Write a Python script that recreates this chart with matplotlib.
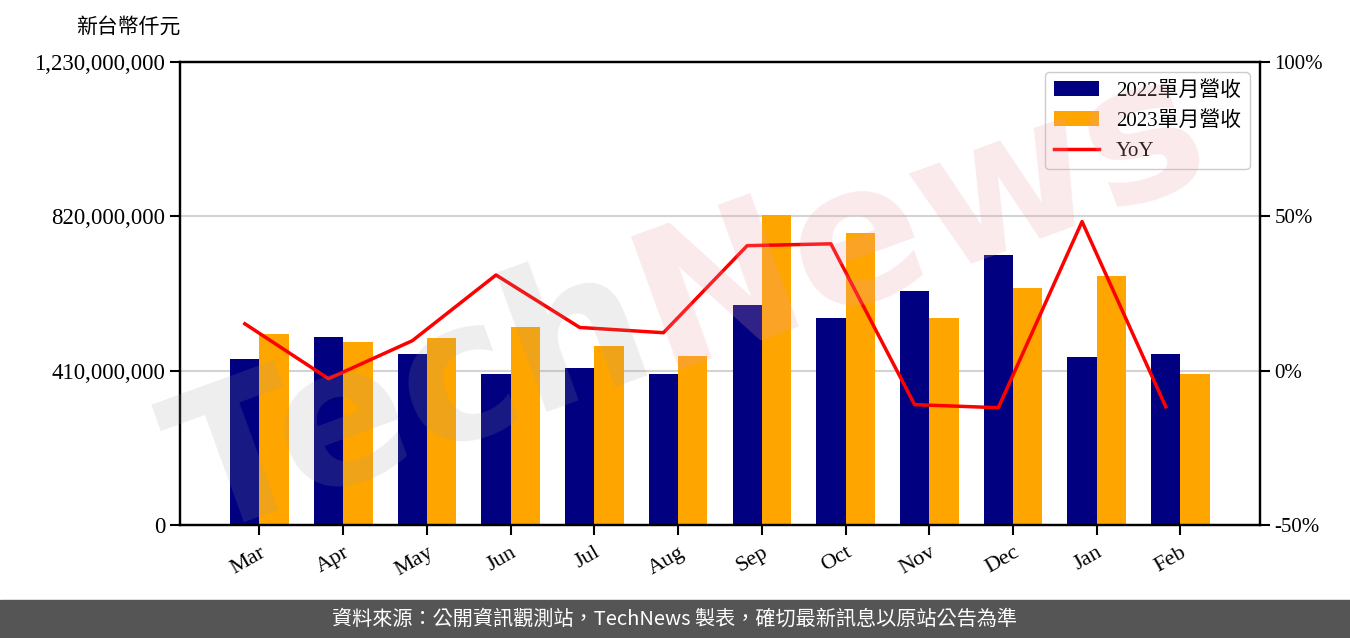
import numpy as np
import matplotlib
matplotlib.use("Agg")
import matplotlib.pyplot as plt
from matplotlib.patches import Rectangle
from matplotlib.ticker import FuncFormatter

# ─────────────────────────────────────────────────────────────────────────────
# Data (新台幣仟元)
# ─────────────────────────────────────────────────────────────────────────────
months = ["Mar", "Apr", "May", "Jun", "Jul", "Aug",
          "Sep", "Oct", "Nov", "Dec", "Jan", "Feb"]
rev_2022 = [441e6, 499e6, 454e6, 401e6, 417e6, 401e6,
            584e6, 550e6, 622e6, 717e6, 446e6, 454e6]
rev_2023 = [507e6, 486e6, 497e6, 526e6, 476e6, 449e6,
            824e6, 776e6, 550e6, 630e6, 661e6, 401e6]
yoy = [15.2, -2.6, 9.7, 31.0, 14.0, 12.3,
       40.5, 41.1, -11.0, -12.0, 48.3, -11.7]
left_ticks = [0, 410e6, 820e6, 1230e6]
right_ticks = [-50, 0, 50, 100]

serif = ["Liberation Serif", "Noto Sans CJK TC"]
plt.rcParams["font.family"] = serif

fig = plt.figure(figsize=(13.5, 6.38), dpi=100)
ax = fig.add_axes([0.1333, 0.1771, 0.8, 0.7257])
ax2 = ax.twinx()

x = np.arange(len(months))
w = 0.35
ax.bar(x - w / 2, rev_2022, w, color="#000080", label="2022單月營收", zorder=2)
ax.bar(x + w / 2, rev_2023, w, color="#ffa500", label="2023單月營收", zorder=2)
ax2.plot(x - w / 2, yoy, color="red", lw=2.5, label="YoY", zorder=3)

ax.set_xlim(-0.95, 11.95)
ax.set_ylim(0, 1230e6)
ax.set_yticks(left_ticks)
ax.yaxis.set_major_formatter(FuncFormatter(lambda v, p: f"{int(v):,}"))
ax.grid(axis="y", color="#d3d3d3", lw=1.5, zorder=0)
ax.set_axisbelow(True)
ax.set_xticks(x)
ax.set_xticklabels(months, rotation=30, ha="right", rotation_mode="anchor")

ax2.set_ylim(-50, 100)
ax2.set_yticks(right_ticks)
ax2.yaxis.set_major_formatter(FuncFormatter(lambda v, p: f"{int(v)}%"))

for a in (ax, ax2):
    for s in a.spines.values():
        s.set_linewidth(1.6)
    a.tick_params(labelsize=15, length=7, width=1.5)
ax.tick_params(axis="y", labelsize=16.5)
ax.tick_params(axis="x", labelsize=16, pad=6)

fig.text(0.056, 0.957, "新台幣仟元", fontsize=15, ha="left", va="center")

h1, l1 = ax.get_legend_handles_labels()
h2, l2 = ax2.get_legend_handles_labels()
ax2.legend(h1 + h2, l1 + l2, loc="upper right", fontsize=15,
           framealpha=1, edgecolor="#cccccc", handlelength=2.2)

# watermark
kw = dict(fontsize=140, fontweight="bold", rotation=20, rotation_mode="anchor",
          family="DejaVu Sans", va="baseline", zorder=10)
fig.text(0.49, 0.42, "Tech", ha="right", color="#999999", alpha=0.17, **kw)
fig.text(0.49, 0.42, "News", ha="left", color="#e8a0a8", alpha=0.22, **kw)

# footer
fig.patches.append(Rectangle((0, 0), 1, 0.0596, transform=fig.transFigure,
                             color="#555555", zorder=0))
fig.text(0.5, 0.03, "資料來源：公開資訊觀測站，TechNews 製表，確切最新訊息以原站公告為準",
         color="white", fontsize=14.5, ha="center", va="center",
         family=["Noto Sans CJK TC", "DejaVu Sans"])

plt.savefig("out.png", dpi=100)
